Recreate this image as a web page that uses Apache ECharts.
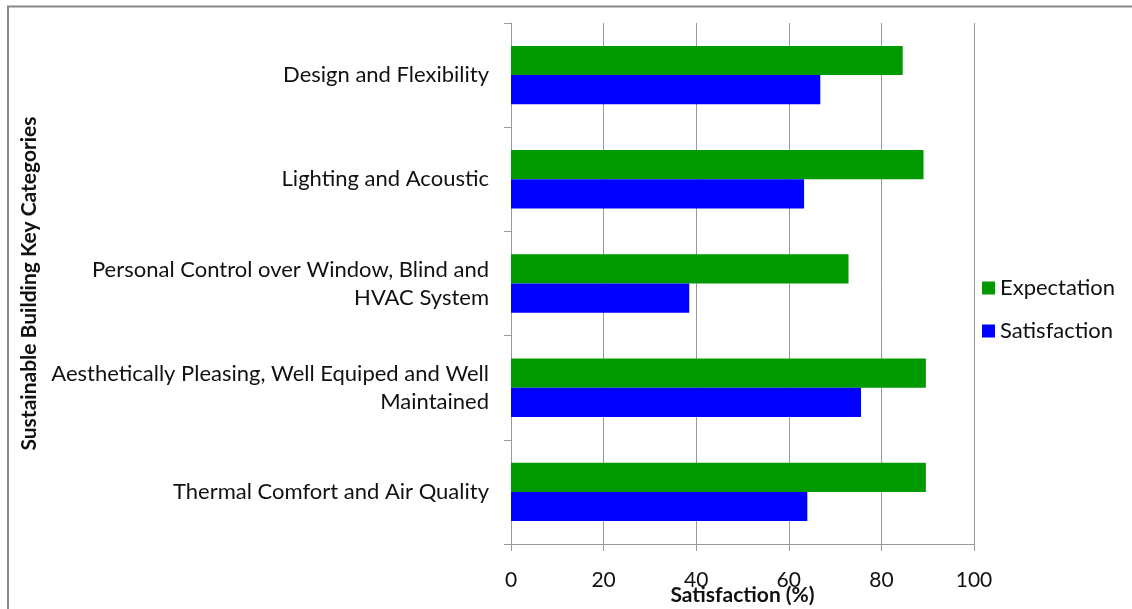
<!DOCTYPE html>
<html>
<head>
<meta charset="utf-8">
<script src="https://cdn.jsdelivr.net/npm/echarts@6/dist/echarts.min.js"></script>
<style>
html,body{margin:0;padding:0;background:#fff;}
#chart{width:1132px;height:609px;}
</style>
</head>
<body>
<div id="chart"></div>
<script>
const categories = [
  'Design and Flexibility',
  'Lighting and Acoustic',
  'Personal Control over Window, Blind and\nHVAC System',
  'Aesthetically Pleasing, Well Equiped and Well\nMaintained',
  'Thermal Comfort and Air Quality'
];
const expectation = [84.6, 89.1, 72.9, 89.6, 89.6];
const satisfaction = [66.8, 63.3, 38.5, 75.6, 64.0];
const xTicks = [0, 20, 40, 60, 80, 100];

const FONT = 'Lato, "Open Sans", sans-serif';
const chart = echarts.init(document.getElementById('chart'));
chart.setOption({
  animation: false,
  backgroundColor: '#fff',
  textStyle: { fontFamily: FONT },
  graphic: [{
    type: 'rect',
    shape: { x: 8, y: 6.5, width: 1200, height: 700 },
    style: { fill: 'none', stroke: '#888', lineWidth: 2 },
    silent: true
  }],
  grid: { left: 511, right: 158, top: 23, bottom: 65, containLabel: false, outerBoundsMode: 'none' },
  legend: {
    orient: 'vertical',
    left: 982,
    top: 277,
    padding: 0,
    icon: 'rect',
    itemWidth: 13,
    itemHeight: 13,
    itemGap: 21,
    textStyle: { fontFamily: FONT, fontSize: 22, color: '#111' },
    data: ['Expectation', 'Satisfaction']
  },
  xAxis: {
    type: 'value',
    min: xTicks[0],
    max: xTicks[xTicks.length - 1],
    interval: 20,
    name: 'Satisfaction (%)',
    nameLocation: 'middle',
    nameGap: 41,
    nameMoveOverlap: false,
    nameTextStyle: { fontFamily: FONT, fontSize: 21, fontWeight: 'bold', color: '#111' },
    axisLine: { show: true, lineStyle: { color: '#999', width: 1 } },
    axisTick: { show: true, length: 7, lineStyle: { color: '#999' } },
    axisLabel: { fontFamily: FONT, fontSize: 21, color: '#111', margin: 26 },
    splitLine: { show: true, lineStyle: { color: '#999', width: 1 } }
  },
  yAxis: {
    type: 'category',
    inverse: true,
    data: categories,
    name: 'Sustainable Building Key Categories',
    nameLocation: 'middle',
    nameRotate: 90,
    nameGap: 471,
    nameMoveOverlap: false,
    nameTextStyle: { fontFamily: FONT, fontSize: 21, fontWeight: 'bold', color: '#111' },
    axisLine: { show: true, lineStyle: { color: '#999', width: 1 } },
    axisTick: { show: true, length: 7, lineStyle: { color: '#999' } },
    axisLabel: { fontFamily: FONT, fontSize: 22, color: '#111', margin: 22, lineHeight: 28 },
    splitLine: { show: false }
  },
  series: [
    {
      name: 'Expectation',
      type: 'bar',
      data: expectation,
      itemStyle: { color: '#009900' },
      barGap: '0%',
      barCategoryGap: '44%'
    },
    {
      name: 'Satisfaction',
      type: 'bar',
      data: satisfaction,
      itemStyle: { color: '#0000ff' },
      barGap: '0%',
      barCategoryGap: '44%'
    }
  ]
});
</script>
</body>
</html>
